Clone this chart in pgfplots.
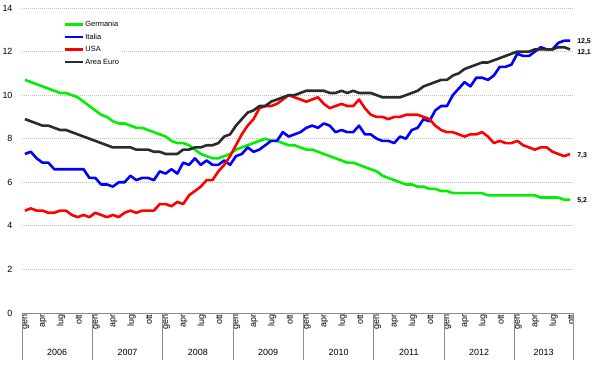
\documentclass[border=0pt]{standalone}
\usepackage{fontspec}
\setmainfont{Liberation Sans}
\usepackage{pgfplots}
\usepackage{pgfplotstable}
\pgfplotsset{compat=1.18}
\definecolor{cger}{HTML}{00F000}
\definecolor{cita}{HTML}{0000FF}
\definecolor{cusa}{HTML}{FF0000}
\definecolor{ceur}{HTML}{2B2B2B}
\definecolor{gridc}{HTML}{BDBDBD}
\definecolor{basec}{HTML}{8C8C8C}

\pgfplotstableread{
m ger ita usa eur
0 10.7 7.3 4.7 8.9
1 10.6 7.4 4.8 8.8
2 10.5 7.1 4.7 8.7
3 10.4 6.9 4.7 8.6
4 10.3 6.9 4.6 8.6
5 10.2 6.6 4.6 8.5
6 10.1 6.6 4.7 8.4
7 10.1 6.6 4.7 8.4
8 10.0 6.6 4.5 8.3
9 9.9 6.6 4.4 8.2
10 9.7 6.6 4.5 8.1
11 9.5 6.2 4.4 8.0
12 9.3 6.2 4.6 7.9
13 9.1 5.9 4.5 7.8
14 9.0 5.9 4.4 7.7
15 8.8 5.8 4.5 7.6
16 8.7 6.0 4.4 7.6
17 8.7 6.0 4.6 7.6
18 8.6 6.3 4.7 7.6
19 8.5 6.1 4.6 7.5
20 8.5 6.2 4.7 7.5
21 8.4 6.2 4.7 7.5
22 8.3 6.1 4.7 7.4
23 8.2 6.5 5.0 7.4
24 8.1 6.4 5.0 7.3
25 7.9 6.6 4.9 7.3
26 7.8 6.4 5.1 7.3
27 7.8 6.9 5.0 7.5
28 7.7 6.8 5.4 7.5
29 7.5 7.1 5.6 7.6
30 7.3 6.8 5.8 7.6
31 7.2 7.0 6.1 7.7
32 7.1 6.8 6.1 7.7
33 7.1 6.8 6.5 7.8
34 7.2 7.0 6.8 8.1
35 7.3 6.8 7.2 8.2
36 7.5 7.2 7.7 8.6
37 7.6 7.3 8.2 8.9
38 7.7 7.6 8.6 9.2
39 7.8 7.4 8.9 9.3
40 7.9 7.5 9.4 9.5
41 8.0 7.7 9.5 9.5
42 7.9 7.9 9.5 9.7
43 7.9 7.9 9.6 9.8
44 7.8 8.3 9.8 9.9
45 7.7 8.1 10.0 10.0
46 7.7 8.2 9.9 10.0
47 7.6 8.3 9.8 10.1
48 7.5 8.5 9.7 10.2
49 7.5 8.6 9.8 10.2
50 7.4 8.5 9.9 10.2
51 7.3 8.7 9.6 10.2
52 7.2 8.6 9.4 10.1
53 7.1 8.3 9.5 10.1
54 7.0 8.4 9.6 10.2
55 6.9 8.3 9.5 10.1
56 6.9 8.3 9.5 10.2
57 6.8 8.6 9.8 10.1
58 6.7 8.2 9.4 10.1
59 6.6 8.2 9.1 10.1
60 6.5 8.0 9.0 10.0
61 6.3 7.9 9.0 9.9
62 6.2 7.9 8.9 9.9
63 6.1 7.8 9.0 9.9
64 6.0 8.1 9.0 9.9
65 5.9 8.0 9.1 10.0
66 5.9 8.4 9.1 10.1
67 5.8 8.5 9.1 10.2
68 5.8 8.9 9.0 10.4
69 5.7 8.8 8.9 10.5
70 5.7 9.3 8.6 10.6
71 5.6 9.5 8.4 10.7
72 5.6 9.5 8.3 10.7
73 5.5 10.0 8.3 10.9
74 5.5 10.3 8.2 11.0
75 5.5 10.6 8.1 11.2
76 5.5 10.4 8.2 11.3
77 5.5 10.8 8.2 11.4
78 5.5 10.8 8.3 11.5
79 5.4 10.7 8.1 11.5
80 5.4 10.9 7.8 11.6
81 5.4 11.3 7.9 11.7
82 5.4 11.3 7.8 11.8
83 5.4 11.4 7.8 11.9
84 5.4 11.9 7.9 12.0
85 5.4 11.8 7.7 12.0
86 5.4 11.8 7.6 12.0
87 5.4 12.0 7.5 12.1
88 5.3 12.2 7.6 12.1
89 5.3 12.1 7.6 12.1
90 5.3 12.1 7.4 12.1
91 5.3 12.4 7.3 12.2
92 5.2 12.5 7.2 12.2
93 5.2 12.5 7.3 12.1
}\datatable

\begin{document}
\begin{tikzpicture}
\path[use as bounding box] (0,0) rectangle (600bp,365bp);
\begin{axis}[
  at={(22bp,52bp)}, anchor=south west,
  scale only axis, width=551bp, height=305bp,
  xmin=-0.5, xmax=93.5, ymin=0, ymax=14,
  clip=false,
  axis line style={draw=none},
  /pgf/number format/assume math mode=true,
  ytick={0,2,4,6,8,10,12,14},
  ymajorgrids=true,
  major grid style={draw=gridc, line width=0.8bp, dash pattern=on 1bp off 1bp},
  ytick pos=left,
  xtick pos=lower,
  major tick length=0pt,
  yticklabel style={font=\fontsize{9}{10}\selectfont, xshift=-6bp},
  xtick={0,3,...,93},
  xticklabels={gen,apr,lug,ott,gen,apr,lug,ott,gen,apr,lug,ott,gen,apr,lug,ott,gen,apr,lug,ott,gen,apr,lug,ott,gen,apr,lug,ott,gen,apr,lug,ott},
  xticklabel style={font=\fontsize{9}{10}\selectfont, rotate=90, anchor=east, inner sep=1.5bp, yshift=-1bp},
  extra x ticks={-0.5,11.5,23.5,35.5,47.5,59.5,71.5,83.5,93.5},
  extra x tick labels={},
  extra x tick style={major tick length=47bp, tick align=outside, xmajorgrids=false,
     tick style={draw=basec, line width=0.8bp}},
  legend style={at={(0.0744,0.963)}, anchor=north west, draw=none, fill=white,
     font=\fontsize{7.5}{8}\selectfont, inner sep=1bp, row sep=4.3bp,
     nodes={inner sep=0.6bp, text height=5.5bp, text depth=1.5bp}},
  legend cell align=left,
  legend image code/.code={\draw[#1] (0bp,0bp) -- (18bp,0bp);},
  every axis plot/.append style={line width=2.6bp, line join=round, no marks},
]
\draw[basec, line width=0.9bp] (rel axis cs:0,0) -- (rel axis cs:1,0);
\addplot[cger] table[x=m, y=ger] {\datatable};
\addlegendentry{Germania}
\addplot[cita] table[x=m, y=ita] {\datatable};
\addlegendentry{Italia}
\addplot[cusa] table[x=m, y=usa] {\datatable};
\addlegendentry{USA}
\addplot[ceur] table[x=m, y=eur] {\datatable};
\addlegendentry{Area Euro}

\begin{scope}[every node/.style={font=\fontsize{9}{10}\selectfont}]
\node at (axis cs:5.5,0) [yshift=-39bp] {2006};
\node at (axis cs:17.5,0) [yshift=-39bp] {2007};
\node at (axis cs:29.5,0) [yshift=-39bp] {2008};
\node at (axis cs:41.5,0) [yshift=-39bp] {2009};
\node at (axis cs:53.5,0) [yshift=-39bp] {2010};
\node at (axis cs:65.5,0) [yshift=-39bp] {2011};
\node at (axis cs:77.5,0) [yshift=-39bp] {2012};
\node at (axis cs:88.5,0) [yshift=-39bp] {2013};
\end{scope}
\begin{scope}[every node/.style={font=\bfseries\fontsize{7}{8}\selectfont, anchor=west, inner sep=0pt}]
\node at (axis cs:93,12.5) [xshift=7bp, yshift=-1.4bp] {12,5};
\node at (axis cs:93,12.1) [xshift=7bp, yshift=-3.4bp] {12,1};
\node at (axis cs:93,7.3) [xshift=7bp, yshift=-2bp] {7,3};
\node at (axis cs:93,5.2) [xshift=7bp, yshift=-1bp] {5,2};
\end{scope}
\end{axis}
\end{tikzpicture}
\end{document}
